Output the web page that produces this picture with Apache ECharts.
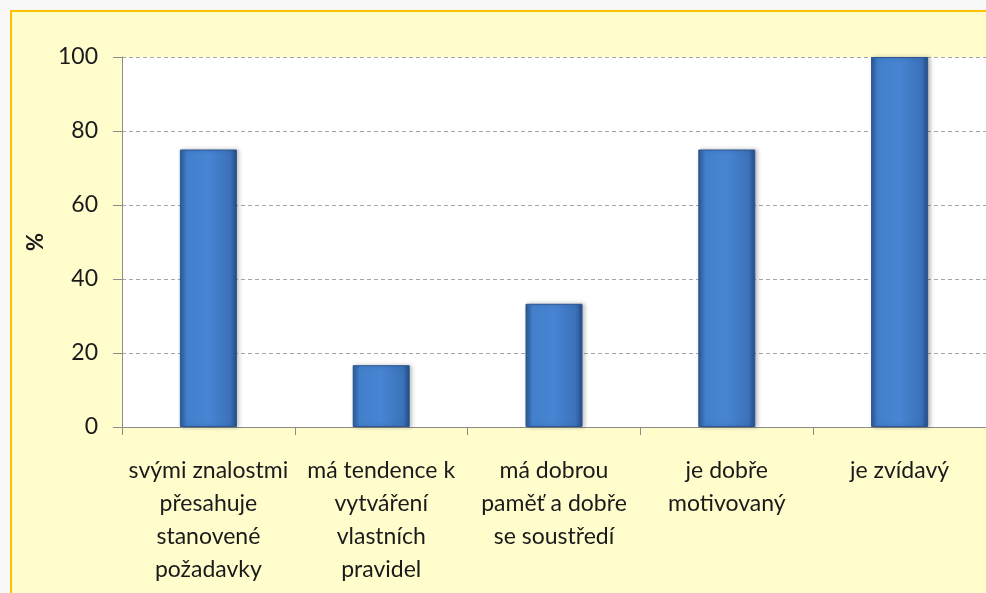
<!DOCTYPE html>
<html lang="cs" style="height: 100%">
<head>
    <meta charset="utf-8">
    <title>Bar chart</title>
    <script src="https://cdn.jsdelivr.net/npm/echarts@6/dist/echarts.min.js"></script>
</head>
<body style="height: 100%; margin: 0; background: #f8f8f8">
    <div id="main" style="width: 986px; height: 593px"></div>
    <script type="text/javascript">
        // data
        var categories = [
            'svými znalostmi\npřesahuje\nstanovené\npožadavky',
            'má tendence k\nvytváření\nvlastních\npravidel',
            'má dobrou\npaměť a dobře\nse soustředí',
            'je dobře\nmotivovaný',
            'je zvídavý'
        ];
        var values = [75, 16.7, 33.3, 75, 100];

        var myChart = echarts.init(document.getElementById('main'));

        var barFill = {
            type: 'linear', x: 0, y: 0, x2: 1, y2: 0,
            colorStops: [
                { offset: 0, color: '#2c5a98' },
                { offset: 0.12, color: '#4280cc' },
                { offset: 0.5, color: '#4784d2' },
                { offset: 0.88, color: '#3b72ba' },
                { offset: 1, color: '#244c85' }
            ]
        };

        var option = {
            animation: false,
            textStyle: { fontFamily: 'Lato' },
            graphic: [{
                type: 'rect',
                z: -10,
                shape: { x: 11, y: 11, width: 1000, height: 600 },
                style: { fill: '#FFFDCC', stroke: '#FFC000', lineWidth: 2 }
            }],
            grid: {
                left: 122, top: 57, right: -3, bottom: 166,
                show: true, backgroundColor: '#ffffff', borderWidth: 0
            },
            xAxis: {
                type: 'category',
                data: categories,
                axisLine: { lineStyle: { color: '#8c8c8c', width: 1 } },
                axisTick: { show: true, length: 8, lineStyle: { color: '#8c8c8c' } },
                axisLabel: {
                    interval: 0, fontSize: 23, lineHeight: 33, margin: 27,
                    color: '#1a1a1a', fontFamily: 'Lato'
                }
            },
            yAxis: {
                type: 'value',
                min: 0, max: 100, interval: 20,
                name: '%',
                nameLocation: 'middle',
                nameRotate: 90,
                nameGap: 72,
                nameTextStyle: { fontSize: 22, color: '#1a1a1a', fontFamily: 'Lato', fontWeight: 'bold' },
                axisLine: { show: true, lineStyle: { color: '#8c8c8c' } },
                axisTick: { show: true, length: 9, lineStyle: { color: '#8c8c8c' } },
                axisLabel: { fontSize: 23, color: '#1a1a1a', margin: 24, fontFamily: 'Lato' },
                splitLine: { lineStyle: { color: '#a6a6a6', type: [4, 3] } }
            },
            series: [{
                type: 'bar',
                data: values,
                barWidth: '33%',
                itemStyle: {
                    color: barFill,
                    borderColor: '#2a5590',
                    borderWidth: 1,
                    shadowBlur: 4,
                    shadowColor: 'rgba(0,0,0,0.25)',
                    shadowOffsetX: 2
                }
            }]
        };
        myChart.setOption(option);
    </script>
</body>
</html>
